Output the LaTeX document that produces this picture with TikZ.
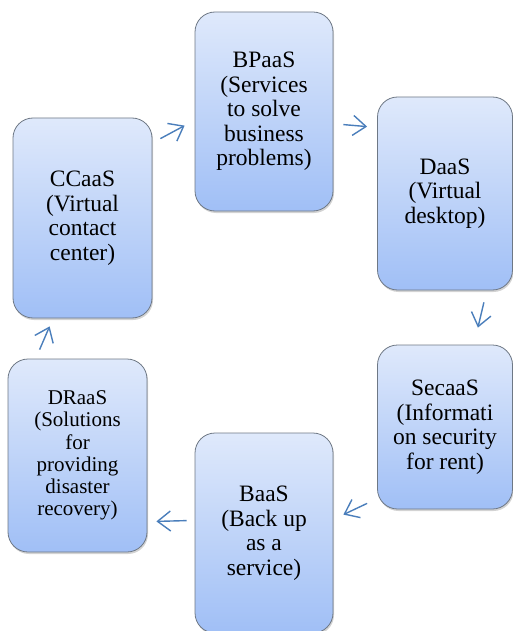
\documentclass[tikz,border=0pt]{standalone}
\usepackage{fontspec}
\setmainfont{Liberation Serif}
\usetikzlibrary{arrows.meta,positioning,shadows}

\definecolor{boxtop}{HTML}{DFE9FB}
\definecolor{boxbot}{HTML}{A0BFF6}
\definecolor{boxline}{HTML}{6E7885}
\definecolor{flowblue}{HTML}{4A7EBB}

\tikzset{
  svcbox/.style={draw=boxline, line width=0.8pt, rounded corners=20pt,
    top color=boxtop, bottom color=boxbot, align=center,
    font=\fontsize{23.5}{24.5}\selectfont, inner sep=0pt,
    drop shadow={shadow xshift=1pt, shadow yshift=-2pt, opacity=0.35}},
  smalltext/.style={font=\fontsize{21}{22.3}\selectfont},
  flow/.style={draw=flowblue, line width=1.4pt,
    -{Straight Barb[length=13pt, width=20pt]}}
}

\begin{document}
\begin{tikzpicture}[x=1pt, y=-1pt]

  \useasboundingbox (0,0) rectangle (513,631);

  % === Service boxes ===
  \node[svcbox, minimum width=139pt, minimum height=200pt] (cc) at (82.5,218)
    {CCaaS\\(Virtual\\contact\\center)};
  \node[svcbox, minimum width=138pt, minimum height=199pt] (bp) at (264,111.5)
    {BPaaS\\(Services\\to solve\\business\\problems)};
  \node[svcbox, minimum width=135pt, minimum height=193pt] (da) at (445,193.5)
    {DaaS\\(Virtual\\desktop)};
  \node[svcbox, minimum width=135pt, minimum height=164pt] (se) at (445,427)
    {SecaaS\\(Informati\\on security\\for rent)};
  \node[svcbox, minimum width=138pt, minimum height=200pt] (ba) at (264,533)
    {BaaS\\(Back up\\as a\\service)};
  \node[svcbox, smalltext, minimum width=139pt, minimum height=193pt] (dr) at (77.5,455.5)
    {DRaaS\\(Solutions\\for\\providing\\disaster\\recovery)};

  % === Cycle arrows ===
  \draw[flow] ([shift={(8,21)}]cc.north east) -- ([shift={(-10,114)}]bp.north west);
  \draw[flow] ([shift={(10,113)}]bp.north east) -- ([shift={(-10,30)}]da.north west);
  \draw[flow] ([shift={(-29,12)}]da.south east) -- ([shift={(-35,-17)}]se.north east);
  \draw[flow] ([shift={(-10,-6)}]se.south west) -- ([shift={(10,82)}]ba.north east);
  \draw[flow] ([shift={(-8,88)}]ba.north west) -- ([shift={(9,-31)}]dr.south east);
  \draw[flow] ([shift={(32,-9)}]dr.north west) -- ([shift={(37,8)}]cc.south west);

\end{tikzpicture}
\end{document}
